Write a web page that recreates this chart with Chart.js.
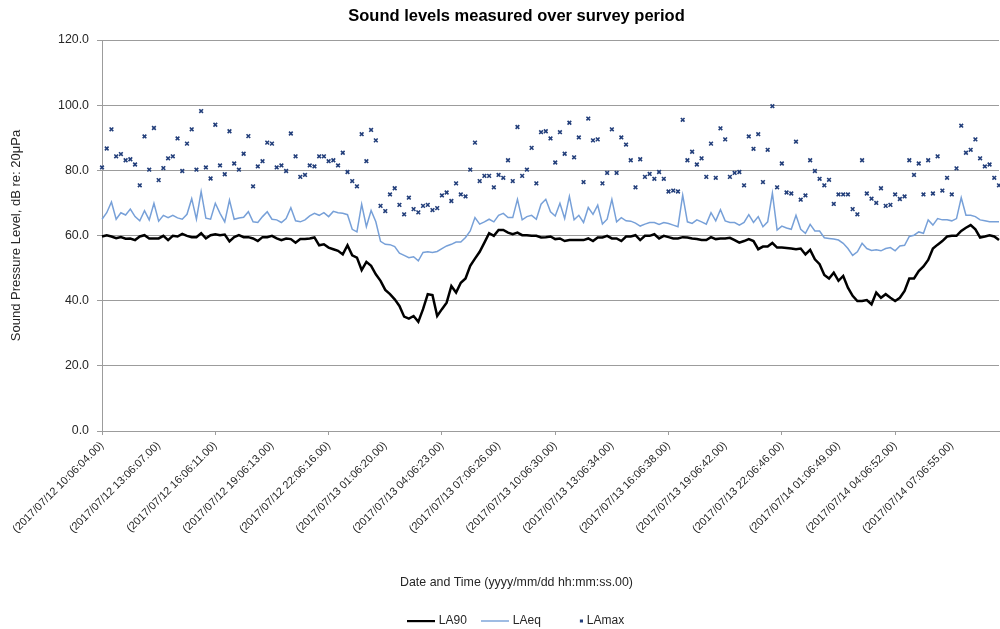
<!DOCTYPE html>
<html>
<head>
<meta charset="utf-8">
<title>Sound levels measured over survey period</title>
<script src="https://cdn.jsdelivr.net/npm/chart.js@4.4.1/dist/chart.umd.min.js"></script>
<style>
  html, body { margin: 0; padding: 0; background: #ffffff; }
  #wrap { width: 1000px; height: 629px; }
  canvas { display: block; }
</style>
</head>
<body>
<div id="wrap"><canvas id="chart" width="1000" height="629"></canvas></div>
<script>
// Labelled instants on the time axis (one every 12 readings, i.e. every 3 hours)
const TIME_TICKS = [
  '(2017/07/12 10:06:04.00)', '(2017/07/12 13:06:07.00)', '(2017/07/12 16:06:11.00)',
  '(2017/07/12 19:06:13.00)', '(2017/07/12 22:06:16.00)', '(2017/07/13 01:06:20.00)',
  '(2017/07/13 04:06:23.00)', '(2017/07/13 07:06:26.00)', '(2017/07/13 10:06:30.00)',
  '(2017/07/13 13:06:34.00)', '(2017/07/13 16:06:38.00)', '(2017/07/13 19:06:42.00)',
  '(2017/07/13 22:06:46.00)', '(2017/07/14 01:06:49.00)', '(2017/07/14 04:06:52.00)',
  '(2017/07/14 07:06:55.00)'
];
const READINGS_PER_TICK = 12;

// 15-minute readings, dB(A)
const LA90 = [
  59.7, 60.1, 59.7, 59.2, 59.5, 59.0, 59.1, 58.6, 59.7, 60.1, 59.1, 59.1,
  59.1, 59.9, 58.6, 59.9, 59.7, 60.5, 59.9, 59.5, 59.5, 60.7, 59.1, 60.1,
  60.4, 60.1, 60.3, 58.2, 59.5, 60.1, 59.5, 59.5, 59.1, 58.3, 59.5, 59.5,
  59.9, 59.1, 58.6, 59.1, 58.9, 57.8, 58.9, 58.9, 59.1, 59.4, 57.0, 57.3,
  56.3, 55.8, 55.3, 54.2, 57.0, 53.9, 53.2, 49.4, 51.9, 50.7, 48.1, 46.1,
  43.3, 42.0, 40.4, 38.4, 35.1, 34.5, 35.3, 33.5, 37.4, 42.0, 41.7, 35.3,
  37.4, 39.4, 44.5, 42.5, 45.5, 46.8, 50.7, 52.9, 55.0, 57.8, 60.7, 59.9,
  61.7, 61.7, 60.9, 60.4, 60.9, 60.1, 60.1, 59.9, 59.9, 59.4, 59.5, 59.7,
  58.9, 59.1, 58.3, 58.6, 58.6, 58.6, 58.6, 59.1, 58.3, 59.4, 59.4, 59.9,
  59.1, 59.1, 58.3, 59.7, 59.7, 60.1, 58.6, 59.9, 59.9, 60.4, 59.1, 59.9,
  59.5, 59.1, 59.1, 59.5, 59.4, 59.1, 58.9, 58.6, 58.6, 59.5, 58.9, 59.1,
  59.1, 59.3, 58.6, 57.8, 58.3, 58.9, 58.3, 55.8, 56.6, 56.6, 57.7, 56.3,
  56.3, 56.2, 56.0, 55.8, 56.0, 54.2, 55.6, 52.7, 51.2, 47.9, 46.8, 48.6,
  46.1, 47.6, 44.0, 41.5, 39.9, 39.9, 40.2, 38.9, 42.5, 40.9, 42.0, 40.9,
  39.9, 40.9, 43.0, 46.8, 46.8, 49.1, 50.5, 52.5, 56.0, 57.2, 58.3, 59.7,
  59.9, 59.9, 61.4, 62.4, 63.2, 61.9, 59.4, 59.7, 60.1, 59.7, 58.6
];

const LAEQ = [
  65.0, 67.0, 70.3, 65.0, 67.0, 66.3, 68.1, 65.8, 64.5, 67.6, 64.8, 69.9,
  64.4, 66.2, 65.5, 66.2, 65.4, 65.0, 66.5, 71.3, 65.0, 73.5, 65.3, 65.0,
  69.9, 66.8, 64.2, 70.9, 65.0, 65.4, 65.6, 67.3, 64.2, 64.0, 65.8, 67.3,
  65.0, 64.8, 64.0, 65.2, 68.5, 64.5, 64.2, 64.8, 66.0, 66.8, 66.2, 67.0,
  65.8, 67.4, 67.0, 66.8, 66.4, 61.9, 61.1, 69.6, 62.7, 67.7, 64.2, 58.2,
  57.3, 57.2, 56.6, 54.6, 53.9, 53.2, 53.5, 52.2, 54.8, 55.0, 54.8, 55.1,
  56.0, 56.8, 57.3, 58.0, 58.0, 59.4, 61.4, 65.5, 63.5, 64.2, 65.0, 64.2,
  66.2, 66.8, 65.5, 65.5, 71.1, 64.8, 65.8, 66.2, 65.0, 69.6, 71.1, 67.3,
  66.0, 69.9, 65.2, 72.0, 64.8, 66.2, 64.0, 68.6, 66.5, 69.3, 63.5, 65.0,
  71.1, 64.2, 65.5, 64.5, 64.4, 63.8, 62.9, 63.5, 64.0, 64.0, 63.4, 64.0,
  63.7, 63.2, 62.7, 72.4, 64.2, 63.7, 64.8, 64.2, 63.5, 67.0, 64.5, 67.9,
  64.5, 64.0, 64.0, 63.2, 64.0, 66.4, 64.0, 65.8, 62.7, 64.2, 73.0, 61.7,
  62.9, 62.3, 61.9, 66.2, 61.9, 60.7, 63.4, 61.4, 61.4, 59.3, 59.1, 58.9,
  58.6, 57.6, 56.0, 53.9, 55.0, 57.6, 56.0, 55.4, 55.6, 55.3, 56.0, 56.3,
  55.3, 56.8, 57.0, 59.7, 60.1, 61.1, 60.7, 64.8, 63.2, 65.2, 64.8, 64.8,
  64.5, 65.2, 71.6, 66.2, 66.2, 65.8, 64.8, 64.5, 64.2, 64.2, 64.2
];

const LAMAX = [
  80.9, 86.7, 92.6, 84.3, 85.0, 83.1, 83.4, 81.8, 75.4, 90.4, 80.2, 93.0,
  77.0, 80.7, 83.7, 84.3, 89.8, 79.8, 88.2, 92.6, 80.2, 98.2, 80.9, 77.5,
  94.0, 81.5, 78.8, 92.0, 82.1, 80.2, 85.1, 90.5, 75.1, 81.2, 82.8, 88.5,
  88.2, 80.9, 81.5, 79.8, 91.3, 84.3, 78.0, 78.6, 81.5, 81.2, 84.3, 84.3,
  82.8, 83.1, 81.5, 85.4, 79.5, 76.7, 75.1, 91.1, 82.8, 92.4, 89.2, 69.1,
  67.5, 72.6, 74.5, 69.4, 66.5, 71.6, 68.1, 67.1, 69.1, 69.4, 67.8, 68.4,
  72.3, 73.2, 70.6, 76.0, 72.6, 72.0, 80.2, 88.5, 76.7, 78.3, 78.3, 74.8,
  78.6, 77.7, 83.1, 76.7, 93.3, 78.3, 80.2, 86.9, 76.0, 91.7, 92.0, 89.8,
  82.4, 91.7, 85.1, 94.6, 84.0, 90.1, 76.4, 95.9, 89.2, 89.5, 76.0, 79.2,
  92.6, 79.2, 90.1, 87.9, 83.1, 74.8, 83.4, 78.0, 78.9, 77.4, 79.5, 77.4,
  73.5, 73.8, 73.5, 95.5, 83.1, 85.7, 81.8, 83.7, 78.0, 88.2, 77.7, 92.9,
  89.5, 78.0, 79.2, 79.5, 75.4, 90.4, 86.6, 91.1, 76.4, 86.3, 99.7, 74.8,
  82.1, 73.2, 72.9, 88.8, 71.0, 72.3, 83.1, 79.8, 77.4, 75.4, 77.1, 69.7,
  72.6, 72.6, 72.6, 68.1, 66.5, 83.1, 72.9, 71.3, 70.0, 74.5, 69.1, 69.4,
  72.6, 71.2, 72.0, 83.1, 78.6, 82.1, 72.6, 83.1, 72.9, 84.3, 73.8, 77.7,
  72.6, 80.6, 93.7, 85.4, 86.3, 89.5, 83.7, 81.2, 81.8, 77.7, 75.4
];

// One category per reading; only every 12th reading carries a printed time
const categories = LA90.map((_, i) =>
  i % READINGS_PER_TICK === 0 ? TIME_TICKS[i / READINGS_PER_TICK] : '');

const GRID = '#9c9c9c';
const TEXT = '#262626';
const EQ_BLUE = '#77a0d8';
const MAX_BLUE = '#233f7b';

Chart.defaults.font.family = "'Liberation Sans', Arial, sans-serif";
Chart.defaults.color = TEXT;

// Small legend samples: a short line for each trace, a dot for the maxima
function legendSwatch(draw) {
  const c = document.createElement('canvas');
  c.width = 28;
  c.height = 6;
  draw(c.getContext('2d'));
  return c;
}
const swatches = [
  legendSwatch(g => { g.fillStyle = '#000000'; g.fillRect(0, 2, 28, 2.2); }),
  legendSwatch(g => { g.fillStyle = EQ_BLUE; g.fillRect(0, 2.3, 28, 1.4); }),
  legendSwatch(g => { g.fillStyle = MAX_BLUE; g.fillRect(25, 1.5, 3, 3); })
];

new Chart(document.getElementById('chart'), {
  type: 'line',
  data: {
    labels: categories,
    datasets: [
      {
        label: 'LA90',
        data: LA90,
        borderColor: '#000000',
        backgroundColor: '#000000',
        borderWidth: 2.5,
        pointRadius: 0,
        tension: 0
      },
      {
        label: 'LAeq',
        data: LAEQ,
        borderColor: EQ_BLUE,
        backgroundColor: EQ_BLUE,
        borderWidth: 1.5,
        pointRadius: 0,
        tension: 0
      },
      {
        label: 'LAmax',
        data: LAMAX,
        showLine: false,
        pointStyle: 'crossRot',
        pointRadius: 2.6,
        pointHoverRadius: 2.6,
        pointBorderWidth: 1.6,
        borderColor: MAX_BLUE,
        backgroundColor: MAX_BLUE
      }
    ]
  },
  options: {
    responsive: false,
    animation: false,
    devicePixelRatio: 1,
    events: [],
    layout: { autoPadding: false, padding: { left: 34, right: 1, top: 0, bottom: -8 } },
    plugins: {
      tooltip: { enabled: false },
      title: {
        display: true,
        text: 'Sound levels measured over survey period',
        color: '#000000',
        font: { size: 16.5, weight: 'bold' },
        padding: { top: 6.1, bottom: 14.1 }
      },
      legend: {
        position: 'bottom',
        // the time-axis caption sits centred above the series keys
        title: {
          display: true,
          text: 'Date and Time (yyyy/mm/dd hh:mm:ss.00)',
          color: TEXT,
          font: { size: 12.4 },
          padding: { top: 37.1, bottom: 7.3 }
        },
        labels: {
          usePointStyle: true,
          pointStyleWidth: 24,
          padding: 16,
          color: TEXT,
          font: { size: 12 },
          generateLabels(chart) {
            const items = Chart.defaults.plugins.legend.labels.generateLabels(chart);
            items.forEach((item, k) => { item.pointStyle = swatches[k]; });
            return items;
          }
        }
      }
    },
    scales: {
      x: {
        offset: false,
        border: { color: GRID, width: 1 },
        grid: {
          drawOnChartArea: false,
          tickLength: 4,
          color: c => (c.index % (2 * READINGS_PER_TICK) === 0 ? GRID : 'rgba(0,0,0,0)')
        },
        ticks: {
          autoSkip: false,
          minRotation: 45,
          maxRotation: 45,
          padding: 4,
          color: TEXT,
          font: { size: 11 }
        },
        afterFit(scale) { scale.paddingRight = 0; }
      },
      y: {
        min: 0,
        max: 120,
        border: { color: GRID, width: 1 },
        grid: { color: GRID, lineWidth: 1, tickLength: 5 },
        ticks: {
          stepSize: 20,
          padding: 8,
          color: TEXT,
          font: { size: 12.4 },
          callback: v => v.toFixed(1)
        },
        title: {
          display: true,
          text: 'Sound Pressure Level, dB re: 20μPa',
          color: TEXT,
          font: { size: 13 },
          padding: { top: -25.8, bottom: 26.2 }
        }
      }
    }
  }
});
</script>
</body>
</html>
